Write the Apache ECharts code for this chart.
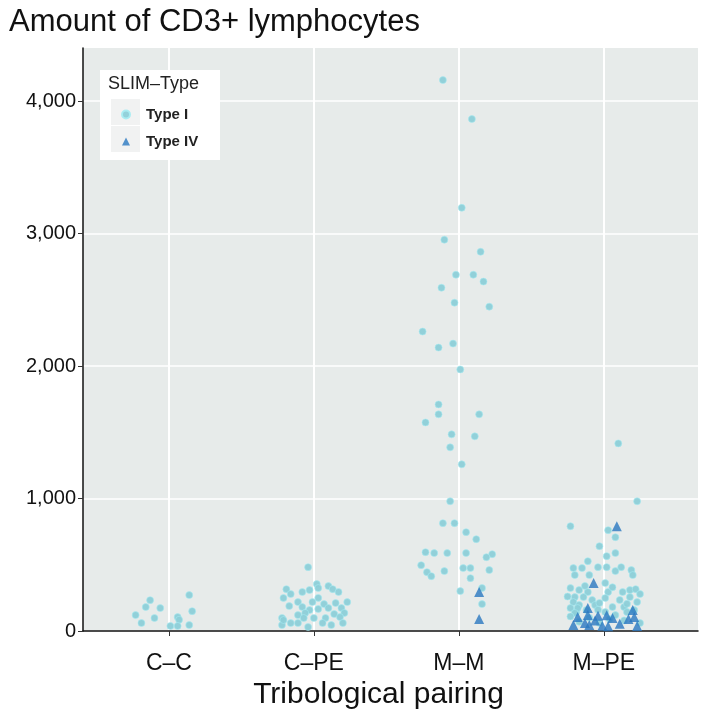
<!DOCTYPE html>
<html>
<head>
<meta charset="utf-8">
<script src="https://cdn.jsdelivr.net/npm/echarts@6/dist/echarts.min.js"></script>
<style>html,body{margin:0;padding:0;background:#fff}#c{width:708px;height:717px}</style>
</head>
<body>
<div id="c"></div>
<script>
// Categories (x positions 1..4) and tick labels
const categories = ['C–C', 'C–PE', 'M–M', 'M–PE'];
const yTicks = [0, 1000, 2000, 3000, 4000];

// Each point: [jitter offset from category centre, CD3+ amount]
const ccTypeI = [[-0.13,233],[-0.16,181],[-0.06,173],[-0.23,120],[-0.10,98],[-0.19,60],[0.14,271],[0.16,150],[0.06,105],[0.07,85],[0.01,38],[0.06,38],[0.14,45]];
const cpeTypeI = [[-0.04,482],[0.02,354],[0.10,339],[0.03,324],[0.13,316],[-0.19,316],[-0.03,309],[-0.08,294],[0.17,294],[-0.16,279],[-0.21,249],[0.03,250],[-0.01,218],[-0.11,218],[0.07,203],[0.23,218],[0.15,211],[-0.17,188],[-0.08,181],[-0.03,158],[0.03,166],[0.10,173],[0.19,173],[-0.06,136],[0.14,128],[0.21,136],[-0.11,120],[-0.07,98],[0.00,98],[-0.22,98],[0.08,98],[0.18,105],[-0.16,60],[-0.11,60],[0.06,60],[0.12,45],[0.20,60],[-0.04,30],[-0.22,45],[-0.21,83]];
const mmTypeI = [[-0.11,4158],[0.09,3864],[0.02,3194],[-0.10,2953],[0.15,2862],[-0.02,2689],[0.10,2689],[0.17,2637],[-0.12,2591],[-0.03,2478],[0.21,2448],[-0.25,2260],[-0.14,2139],[-0.04,2169],[0.01,1974],[-0.14,1710],[-0.14,1635],[0.14,1635],[-0.23,1574],[-0.05,1484],[0.11,1469],[-0.06,1386],[0.02,1258],[-0.06,979],[-0.11,814],[-0.03,814],[0.05,746],[0.12,693],[-0.23,595],[-0.17,588],[-0.08,588],[0.05,588],[0.23,580],[0.19,557],[-0.26,497],[-0.22,444],[-0.19,414],[-0.10,452],[0.03,475],[0.08,475],[0.21,460],[0.08,399],[0.01,301],[0.16,324],[0.16,203]];
const mmTypeIV = [[0.14,294],[0.14,90]];
const mpeTypeI = [[0.10,1416],[0.23,979],[-0.23,791],[0.03,761],[0.08,708],[-0.03,640],[0.08,588],[0.02,565],[-0.11,527],[-0.21,475],[-0.15,475],[-0.04,482],[0.02,482],[0.12,482],[0.08,452],[0.19,460],[0.20,422],[-0.20,422],[-0.10,422],[0.01,362],[-0.23,324],[-0.17,309],[-0.11,294],[0.03,294],[0.13,294],[0.18,309],[0.22,316],[-0.20,256],[-0.14,256],[-0.08,234],[0.01,249],[0.11,234],[0.18,256],[0.23,218],[-0.21,218],[-0.17,196],[-0.06,196],[-0.03,211],[0.06,181],[0.14,181],[0.16,205],[-0.19,143],[-0.12,158],[0.01,143],[0.16,143],[0.21,158],[-0.23,173],[-0.18,173],[-0.04,160],[-0.20,136],[0.25,279],[-0.13,340],[0.06,330],[-0.25,260],[-0.10,100],[0.04,90],[0.14,80],[-0.03,60],[-0.17,70],[0.25,60],[0.08,120],[-0.23,110]];
const mpeTypeIV = [[0.09,791],[-0.07,362],[-0.11,173],[0.20,158],[-0.18,105],[-0.11,120],[-0.04,115],[0.02,118],[0.06,98],[0.21,105],[-0.13,60],[-0.10,45],[-0.01,40],[0.03,35],[0.11,55],[0.23,38],[-0.21,45],[-0.06,80],[0.17,90]];

function place(idx, arr) { return arr.map(p => [idx + p[0], p[1]]); }
const typeIData = [].concat(place(1, ccTypeI), place(2, cpeTypeI), place(3, mmTypeI), place(4, mpeTypeI));
const typeIVData = [].concat(place(3, mmTypeIV), place(4, mpeTypeIV));

const FONT = 'Liberation Sans, Arial, Helvetica, sans-serif';
const chart = echarts.init(document.getElementById('c'), null, {renderer: 'canvas'});
chart.setOption({
  animation: false,
  backgroundColor: '#ffffff',
  title: {
    text: 'Amount of CD3+ lymphocytes',
    left: 4, top: 2,
    textStyle: {fontFamily: FONT, fontSize: 31, fontWeight: 'normal', color: '#111'}
  },
  grid: {left: 83, right: 10, top: 48, bottom: 86, show: true, backgroundColor: '#e7ebea', borderWidth: 0},
  xAxis: {
    type: 'value', min: 0.407, max: 4.65,
    name: 'Tribological pairing', nameLocation: 'middle', nameGap: 45,
    nameTextStyle: {fontFamily: FONT, fontSize: 30, color: '#111', padding: [0, 24, 0, 0]},
    axisLine: {show: true, onZero: false, lineStyle: {color: '#111', width: 1.5}},
    axisTick: {show: true, length: 5, customValues: [1, 2, 3, 4], lineStyle: {color: '#333'}},
    axisLabel: {customValues: [1, 2, 3, 4], formatter: v => categories[Math.round(v) - 1] || '', margin: 21,
      fontFamily: FONT, fontSize: 23, color: '#111'},
    splitLine: {show: true, lineStyle: {color: '#ffffff', width: 2}}
  },
  yAxis: {
    type: 'value', min: 0, max: 4400, interval: 500,
    axisLine: {show: true, lineStyle: {color: '#111', width: 1.5}},
    axisTick: {show: true, length: 5, customValues: yTicks, lineStyle: {color: '#333'}},
    axisLabel: {customValues: yTicks, formatter: v => v.toLocaleString('en-US'), margin: 7,
      fontFamily: FONT, fontSize: 20, color: '#111'},
    splitLine: {show: true, lineStyle: {color: '#ffffff', width: 1.5}}
  },
  legend: {
    left: 116, top: 102, orient: 'vertical', itemWidth: 8, itemHeight: 8, itemGap: 12, z: 20,
    textStyle: {fontFamily: FONT, fontSize: 15, fontWeight: 'bold', color: '#222', padding: [0, 0, 0, 11]},
    data: [{name: 'Type I', icon: 'circle'}, {name: 'Type IV', icon: 'triangle'}]
  },
  graphic: [
    {type: 'rect', left: 100, top: 70, z: 1, shape: {width: 120, height: 90}, style: {fill: '#ffffff'}},
    {type: 'rect', left: 111, top: 99, z: 2, shape: {width: 29, height: 26}, style: {fill: '#f1f2f2'}},
    {type: 'rect', left: 111, top: 126, z: 2, shape: {width: 29, height: 26}, style: {fill: '#f1f2f2'}},
    {type: 'text', left: 108, top: 75, z: 3, style: {text: 'SLIM–Type', fontFamily: FONT, fontSize: 18, fill: '#222'}}
  ],
  series: [
    {name: 'Type I', type: 'scatter', symbol: 'circle', symbolSize: 7, data: typeIData, z: 3,
      itemStyle: {color: '#8dcfd8', opacity: 0.95, borderColor: '#a8ecf2', borderWidth: 0.6}},
    {name: 'Type IV', type: 'scatter', symbol: 'triangle', symbolSize: 10, data: typeIVData, z: 4,
      itemStyle: {color: '#2a78c0'}}
  ]
});
</script>
</body>
</html>
